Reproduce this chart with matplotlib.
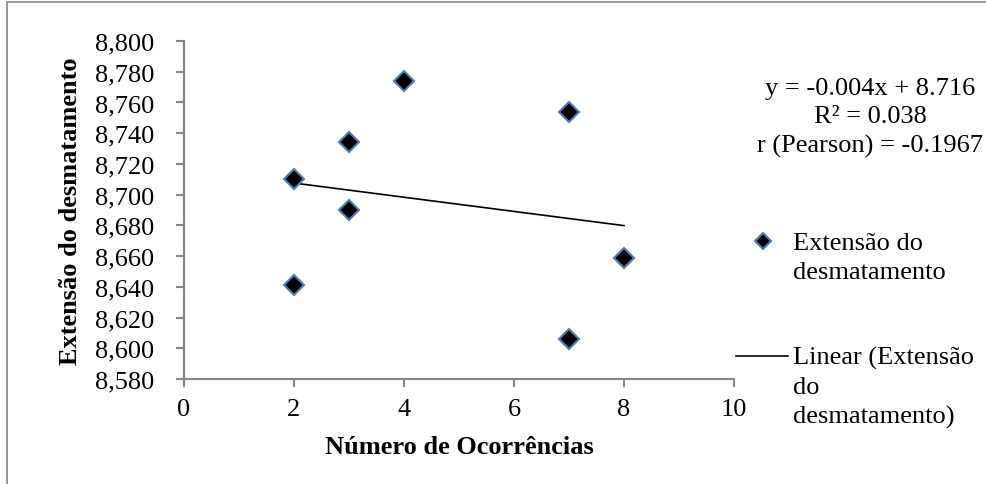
import numpy as np
import matplotlib
matplotlib.use('Agg')
import matplotlib.pyplot as plt
from matplotlib.lines import Line2D
from matplotlib.patches import Rectangle
from matplotlib.ticker import FuncFormatter, MultipleLocator

# dados
ocorrencias = [2, 2, 3, 3, 4, 7, 7, 8]
extensao = [8.710, 8.641, 8.734, 8.690, 8.774, 8.754, 8.606, 8.659]
eq_text = 'y = -0.004x + 8.716\nR² = 0.038\nr (Pearson) = -0.1967'
leg_pts = 'Extensão do\ndesmatamento'
leg_lin = 'Linear (Extensão\ndo\ndesmatamento)'

plt.rcParams['font.family'] = ['Liberation Serif', 'DejaVu Serif']
plt.rcParams['font.size'] = 19

fig = plt.figure(figsize=(9.86, 4.85), dpi=100)
ax = fig.add_axes([184/986, 1 - 380/485, 550/986, 338/485])

azul = '#4A7EBB'
cinza = '#868686'

# tendência linear (mínimos quadrados)
a, b = np.polyfit(ocorrencias, extensao, 1)
xl = np.array([min(ocorrencias), max(ocorrencias)])
ax.plot(xl, a * xl + b, color='black', lw=1.2, zorder=2)
ax.plot(ocorrencias, extensao, ls='none', marker='D', ms=10.5,
        mfc='black', mec=azul, mew=1.5, zorder=3, clip_on=False)

ax.set_xlim(0, 10)
ax.set_ylim(8.58, 8.80)
ax.xaxis.set_major_locator(MultipleLocator(2))
ax.yaxis.set_major_locator(MultipleLocator(0.02))
ax.yaxis.set_major_formatter(FuncFormatter(lambda v, p: f'{v:.3f}'.replace('.', ',')))

for s in ['top', 'right']:
    ax.spines[s].set_visible(False)
for s in ['left', 'bottom']:
    ax.spines[s].set_color(cinza)
    ax.spines[s].set_linewidth(1.5)
ax.tick_params(axis='y', length=5.5, width=1.5, color=cinza, pad=16)
ax.tick_params(axis='x', length=5.5, width=1.5, color=cinza, pad=8)

ax.set_xlabel('Número de Ocorrências', fontweight='bold', labelpad=11)
ax.set_ylabel('Extensão do desmatamento', fontweight='bold', labelpad=9)

fig.text(870/986, 1 - 118/485, eq_text, ha='center', va='center', linespacing=1.4)

# legenda
fig.add_artist(Line2D([763/986], [1 - 242/485], ls='none', marker='D', ms=8.5,
                      mfc='black', mec=azul, mew=1.5))
fig.text(793/986, 1 - 233/485, leg_pts, ha='left', va='top', linespacing=1.4)
fig.add_artist(Line2D([736/986, 788/986], [1 - 357/485, 1 - 357/485], color='black', lw=1.2))
fig.text(793/986, 1 - 347/485, leg_lin, ha='left', va='top', linespacing=1.4)

# moldura externa
fig.add_artist(Rectangle((7/986, -0.05), 1.2, 1 - 3/485 + 0.05, transform=fig.transFigure,
                         fill=False, edgecolor=cinza, lw=1.2))

fig.savefig('out.png', dpi=100)
